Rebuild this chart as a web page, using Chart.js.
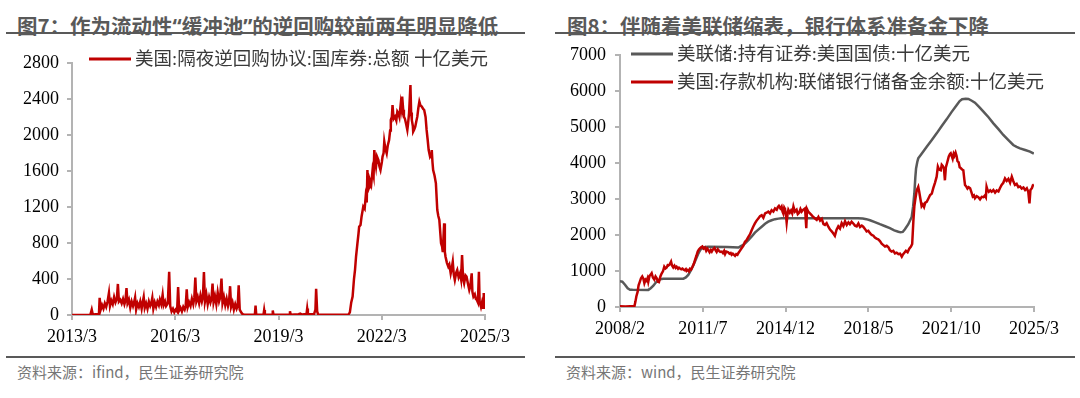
<!DOCTYPE html>
<html>
<head>
<meta charset="utf-8">
<script src="https://cdn.jsdelivr.net/npm/chart.js@4.4.1/dist/chart.umd.min.js"></script>
<style>
  body { margin: 0; width: 1080px; height: 398px; background: #fff; position: relative; overflow: hidden; }
  canvas { position: absolute; top: 0; }
  .title { position: absolute; top: 10px; height: 22px; line-height: 22px; font: bold 20.5px "Noto Sans CJK SC", sans-serif; color: #595959; white-space: nowrap; }
  .title .q { font-family: "Noto Sans", sans-serif; }
  .rule { position: absolute; height: 2px; background: #595959; }
  .source { position: absolute; top: 361px; line-height: 20px; font: 15px "Noto Sans CJK SC", sans-serif; color: #767676; white-space: nowrap; }
</style>
</head>
<body>
<div class="title" style="left:17px">图7：作为流动性<span class="q">“</span>缓冲池<span class="q">”</span>的逆回购较前两年明显降低</div>
<div class="rule" style="left:6px;top:32px;width:519px"></div>
<div class="rule" style="left:6px;top:356px;width:519px"></div>
<div class="source" style="left:17px">资料来源：ifind，民生证券研究院</div>

<div class="title" style="left:567px">图8：伴随着美联储缩表，银行体系准备金下降</div>
<div class="rule" style="left:555px;top:32px;width:520px"></div>
<div class="rule" style="left:555px;top:356px;width:520px"></div>
<div class="source" style="left:566px">资料来源：wind，民生证券研究院</div>

<canvas id="rrpChart" width="540" height="398" style="left:0"></canvas>
<canvas id="bsChart" width="540" height="398" style="left:540px"></canvas>

<script>
// ---- left: overnight reverse repo, [decimal year, bn USD] ----
const rrpLabel = '美国:隔夜逆回购协议:国库券:总额 十亿美元';
const rrpTickLabels = ['2013/3', '2016/3', '2019/3', '2022/3', '2025/3'];
const rrpYTicks = { min: 0, max: 2800, step: 400 };
const rrpSeries = [
    [2013.17, 0], [2013.70, 2], [2013.74, 60], [2013.77, 5], [2013.95, 10], [2013.97, 190], [2014.0, 60],
    [2014.04, 110], [2014.08, 70], [2014.12, 130], [2014.16, 90], [2014.2, 150], [2014.24, 245], [2014.27, 100],
    [2014.31, 160], [2014.35, 120], [2014.39, 200], [2014.43, 140], [2014.47, 180], [2014.5, 345], [2014.53, 150],
    [2014.57, 170], [2014.61, 130], [2014.65, 180], [2014.69, 120], [2014.72, 160], [2014.75, 300], [2014.78, 130],
    [2014.82, 170], [2014.86, 80], [2014.9, 150], [2014.94, 100], [2014.97, 140], [2015.0, 195], [2015.03, 60],
    [2015.07, 130], [2015.11, 90], [2015.15, 150], [2015.19, 70], [2015.22, 140], [2015.25, 200], [2015.28, 80],
    [2015.32, 130], [2015.36, 70], [2015.4, 150], [2015.44, 100], [2015.47, 130], [2015.5, 190], [2015.53, 70],
    [2015.57, 140], [2015.61, 90], [2015.65, 150], [2015.69, 110], [2015.72, 170], [2015.76, 120], [2015.8, 225],
    [2015.83, 110], [2015.87, 150], [2015.9, 100], [2015.95, 130], [2015.99, 480], [2016.02, 100], [2016.06, 40],
    [2016.1, 70], [2016.14, 30], [2016.18, 60], [2016.22, 40], [2016.25, 310], [2016.28, 50], [2016.32, 80],
    [2016.36, 40], [2016.4, 90], [2016.44, 60], [2016.47, 100], [2016.5, 285], [2016.53, 90], [2016.57, 140],
    [2016.61, 100], [2016.65, 180], [2016.69, 120], [2016.72, 190], [2016.75, 415], [2016.78, 150], [2016.82, 200],
    [2016.86, 130], [2016.9, 220], [2016.94, 150], [2016.97, 200], [2017.0, 478], [2017.03, 150], [2017.07, 230],
    [2017.11, 120], [2017.15, 200], [2017.19, 140], [2017.22, 180], [2017.25, 350], [2017.28, 140], [2017.32, 210],
    [2017.36, 120], [2017.4, 250], [2017.44, 150], [2017.47, 190], [2017.51, 405], [2017.54, 130], [2017.58, 200],
    [2017.62, 110], [2017.66, 180], [2017.7, 100], [2017.73, 150], [2017.76, 320], [2017.79, 90], [2017.83, 140],
    [2017.87, 60], [2017.91, 120], [2017.95, 70], [2017.98, 100], [2018.01, 330], [2018.04, 60], [2018.08, 30],
    [2018.12, 10], [2018.16, 5], [2018.3, 3], [2018.48, 2], [2018.5, 105], [2018.52, 3], [2018.73, 2],
    [2018.75, 55], [2018.77, 2], [2018.98, 2], [2019.0, 50], [2019.02, 2], [2019.48, 2], [2019.5, 42],
    [2019.52, 3], [2019.75, 8], [2019.8, 15], [2019.85, 5], [2019.98, 10], [2020.0, 72], [2020.02, 8],
    [2020.2, 10], [2020.24, 60], [2020.26, 290], [2020.29, 40], [2020.32, 5], [2020.6, 2], [2021.0, 3],
    [2021.2, 5], [2021.24, 30], [2021.28, 140], [2021.32, 204], [2021.36, 400], [2021.39, 500], [2021.42, 650],
    [2021.46, 796], [2021.49, 900], [2021.51, 981], [2021.55, 1000], [2021.58, 1092], [2021.63, 1204],
    [2021.67, 1180], [2021.7, 1315], [2021.73, 1250], [2021.75, 1611], [2021.77, 1389], [2021.8, 1420],
    [2021.82, 1500], [2021.86, 1450], [2021.9, 1611], [2021.93, 1550], [2021.95, 1833], [2021.98, 1700],
    [2022.0, 1648], [2022.03, 1760], [2022.07, 1722], [2022.1, 1650], [2022.13, 1611], [2022.17, 1700],
    [2022.19, 1760], [2022.22, 1800], [2022.24, 1926], [2022.27, 1850], [2022.31, 1796], [2022.34, 1880],
    [2022.38, 1944], [2022.41, 2050], [2022.43, 2167], [2022.46, 2200], [2022.48, 2333], [2022.51, 2180],
    [2022.55, 2204], [2022.59, 2160], [2022.62, 2260], [2022.65, 2241], [2022.68, 2200], [2022.72, 2352],
    [2022.74, 2300], [2022.76, 2426], [2022.79, 2280], [2022.81, 2204], [2022.84, 2180], [2022.87, 2130],
    [2022.91, 2056], [2022.93, 2120], [2022.96, 2241], [2023.0, 2555], [2023.02, 2250], [2023.04, 2167],
    [2023.07, 2100], [2023.08, 2037], [2023.11, 2060], [2023.14, 2093], [2023.17, 2150], [2023.2, 2204],
    [2023.23, 2300], [2023.26, 2370], [2023.29, 2330], [2023.33, 2315], [2023.37, 2290], [2023.4, 2278],
    [2023.44, 2200], [2023.47, 2056], [2023.5, 1950], [2023.53, 1833], [2023.57, 1759], [2023.6, 1780],
    [2023.62, 1833], [2023.64, 1700], [2023.66, 1611], [2023.7, 1550], [2023.74, 1463], [2023.78, 1167],
    [2023.81, 1100], [2023.84, 1055], [2023.87, 900], [2023.89, 796], [2023.92, 760], [2023.94, 700],
    [2023.98, 1018], [2024.0, 700], [2024.02, 648], [2024.06, 580], [2024.1, 537], [2024.13, 560],
    [2024.17, 463], [2024.2, 520], [2024.23, 592], [2024.26, 450], [2024.29, 389], [2024.33, 470],
    [2024.36, 500], [2024.4, 420], [2024.44, 463], [2024.47, 400], [2024.5, 667], [2024.53, 400],
    [2024.56, 352], [2024.6, 440], [2024.63, 426], [2024.67, 350], [2024.71, 278], [2024.74, 320],
    [2024.78, 463], [2024.8, 260], [2024.83, 204], [2024.87, 230], [2024.9, 180], [2024.93, 167],
    [2024.96, 140], [2024.99, 481], [2025.01, 150], [2025.05, 90], [2025.08, 140], [2025.11, 80],
    [2025.13, 245], [2025.15, 110], [2025.16, 130]
];

// ---- right: Fed Treasury holdings & reserve balances, [decimal year, bn USD] ----
const fedTreasuryLabel = '美联储:持有证券:美国国债:十亿美元';
const reserveLabel = '美国:存款机构:联储银行储备金余额:十亿美元';
const bsTickLabels = ['2008/2', '2011/7', '2014/12', '2018/5', '2021/10', '2025/3'];
const bsYTicks = { min: 0, max: 7000, step: 1000 };
const fedTreasurySeries = [
    [2008.08, 713], [2008.18, 703], [2008.29, 620], [2008.4, 520], [2008.5, 480], [2008.6, 476], [2009.25, 475],
    [2009.35, 520], [2009.46, 590], [2009.56, 680], [2009.67, 750], [2009.8, 780], [2009.87, 787], [2010.7, 787],
    [2010.8, 820], [2010.9, 890], [2011.0, 1010], [2011.11, 1160], [2011.22, 1330], [2011.32, 1490],
    [2011.4, 1590], [2011.48, 1645], [2011.6, 1670], [2011.73, 1676], [2012.5, 1665], [2012.97, 1650],
    [2013.07, 1690], [2013.17, 1725], [2013.28, 1790], [2013.38, 1860], [2013.52, 1960], [2013.65, 2065],
    [2013.79, 2150], [2013.93, 2230], [2014.07, 2310], [2014.2, 2370], [2014.34, 2410], [2014.48, 2440],
    [2014.62, 2455], [2014.75, 2463], [2017.57, 2465], [2017.9, 2462], [2018.1, 2455], [2018.25, 2440],
    [2018.4, 2410], [2018.6, 2360], [2018.81, 2300], [2019.0, 2250], [2019.22, 2190], [2019.4, 2130],
    [2019.57, 2090], [2019.66, 2074], [2019.75, 2085], [2019.84, 2160], [2019.98, 2300], [2020.12, 2500],
    [2020.18, 2800], [2020.23, 3160], [2020.27, 3600], [2020.3, 3850], [2020.35, 4030], [2020.39, 4130],
    [2020.5, 4230], [2020.74, 4454], [2020.95, 4640], [2021.15, 4824], [2021.36, 5030], [2021.56, 5213],
    [2021.77, 5420], [2021.98, 5611], [2022.1, 5720], [2022.2, 5770], [2022.35, 5785], [2022.46, 5778],
    [2022.6, 5730], [2022.73, 5676], [2022.9, 5560], [2023.08, 5426], [2023.29, 5270], [2023.49, 5102],
    [2023.7, 4940], [2023.9, 4778], [2024.1, 4640], [2024.31, 4500], [2024.45, 4450], [2024.59, 4407],
    [2024.8, 4360], [2025.0, 4315], [2025.16, 4260]
];
const reserveSeries = [
    [2008.08, 20], [2008.3, 15], [2008.5, 20], [2008.68, 25], [2008.72, 150], [2008.76, 300], [2008.81, 420],
    [2008.85, 600], [2008.9, 700], [2008.95, 800], [2009.0, 850], [2009.05, 780], [2009.09, 660], [2009.14, 760],
    [2009.18, 730], [2009.22, 800], [2009.25, 700], [2009.3, 860], [2009.35, 900], [2009.39, 940], [2009.44, 820],
    [2009.5, 760], [2009.55, 850], [2009.6, 800], [2009.65, 700], [2009.69, 690], [2009.75, 850], [2009.8, 930],
    [2009.86, 1000], [2009.91, 1120], [2009.96, 1070], [2010.01, 1100], [2010.05, 1160], [2010.08, 1150],
    [2010.13, 1180], [2010.19, 1260], [2010.23, 1150], [2010.28, 1100], [2010.33, 1150], [2010.38, 1090],
    [2010.42, 1120], [2010.48, 1060], [2010.52, 1090], [2010.56, 1070], [2010.61, 1050], [2010.66, 1070],
    [2010.7, 1040], [2010.75, 1020], [2010.8, 1050], [2010.83, 1000], [2010.88, 1030], [2010.93, 990],
    [2010.97, 1060], [2011.02, 1040], [2011.07, 1110], [2011.13, 1200], [2011.18, 1310], [2011.24, 1430],
    [2011.29, 1540], [2011.34, 1600], [2011.38, 1630], [2011.43, 1660], [2011.48, 1680], [2011.53, 1620],
    [2011.59, 1650], [2011.64, 1560], [2011.69, 1620], [2011.73, 1580], [2011.78, 1520], [2011.83, 1580],
    [2011.87, 1540], [2011.92, 1600], [2011.98, 1640], [2012.03, 1570], [2012.07, 1530], [2012.12, 1600],
    [2012.17, 1560], [2012.22, 1530], [2012.28, 1540], [2012.33, 1500], [2012.38, 1560], [2012.42, 1470],
    [2012.47, 1540], [2012.55, 1520], [2012.6, 1480], [2012.65, 1500], [2012.69, 1450], [2012.74, 1480],
    [2012.8, 1440], [2012.83, 1420], [2012.88, 1470], [2012.93, 1450], [2012.97, 1500], [2013.03, 1560],
    [2013.1, 1630], [2013.17, 1700], [2013.24, 1810], [2013.3, 1850], [2013.38, 1950], [2013.45, 2020],
    [2013.52, 2140], [2013.58, 2230], [2013.65, 2320], [2013.72, 2400], [2013.79, 2460], [2013.86, 2520],
    [2013.93, 2550], [2014.0, 2480], [2014.07, 2600], [2014.13, 2620], [2014.2, 2650], [2014.27, 2600],
    [2014.34, 2690], [2014.41, 2650], [2014.48, 2740], [2014.55, 2700], [2014.6, 2780], [2014.64, 2810],
    [2014.7, 2740], [2014.75, 2790], [2014.79, 2650], [2014.82, 2600], [2014.86, 2760], [2014.89, 2720],
    [2014.93, 2560], [2014.96, 2350], [2015.0, 2600], [2015.03, 2700], [2015.09, 2620], [2015.14, 2680],
    [2015.19, 2600], [2015.24, 2790], [2015.3, 2650], [2015.37, 2700], [2015.42, 2580], [2015.48, 2620],
    [2015.53, 2720], [2015.58, 2650], [2015.64, 2700], [2015.72, 2740], [2015.77, 2190], [2015.8, 2720],
    [2015.85, 2650], [2015.92, 2600], [2015.99, 2550], [2016.06, 2500], [2016.13, 2460], [2016.2, 2420],
    [2016.27, 2500], [2016.34, 2400], [2016.41, 2450], [2016.48, 2300], [2016.54, 2280], [2016.61, 2330],
    [2016.68, 2230], [2016.75, 2150], [2016.82, 2100], [2016.88, 2050], [2016.95, 1980], [2017.02, 2150],
    [2017.09, 2240], [2017.16, 2180], [2017.23, 2330], [2017.3, 2250], [2017.37, 2380], [2017.44, 2280],
    [2017.51, 2350], [2017.57, 2300], [2017.64, 2370], [2017.71, 2320], [2017.78, 2260], [2017.85, 2240],
    [2017.92, 2320], [2017.99, 2220], [2018.06, 2260], [2018.12, 2230], [2018.19, 2170], [2018.26, 2100],
    [2018.33, 2120], [2018.4, 2050], [2018.47, 2000], [2018.54, 1980], [2018.6, 1930], [2018.67, 1900],
    [2018.74, 1880], [2018.81, 1830], [2018.88, 1760], [2018.95, 1720], [2019.02, 1680], [2019.09, 1700],
    [2019.16, 1660], [2019.22, 1580], [2019.29, 1540], [2019.36, 1560], [2019.43, 1490], [2019.5, 1510],
    [2019.57, 1470], [2019.64, 1480], [2019.71, 1400], [2019.75, 1450], [2019.81, 1500], [2019.88, 1560],
    [2019.95, 1520], [2020.02, 1620], [2020.09, 1680], [2020.14, 1750], [2020.19, 2400], [2020.23, 2800],
    [2020.27, 3000], [2020.33, 3250], [2020.39, 3340], [2020.43, 3200], [2020.48, 3000], [2020.53, 2800],
    [2020.58, 2850], [2020.63, 2780], [2020.68, 2900], [2020.74, 2920], [2020.8, 3000], [2020.88, 3110],
    [2020.95, 3150], [2021.01, 3300], [2021.08, 3450], [2021.15, 3620], [2021.2, 3900], [2021.25, 3820],
    [2021.32, 3800], [2021.36, 3950], [2021.4, 3920], [2021.45, 3850], [2021.49, 3520], [2021.53, 3880],
    [2021.58, 4000], [2021.65, 4180], [2021.7, 4250], [2021.73, 4270], [2021.78, 4180], [2021.81, 4120],
    [2021.85, 4250], [2021.88, 4200], [2021.93, 4290], [2021.97, 4200], [2022.01, 4050], [2022.06, 4020],
    [2022.1, 3880], [2022.14, 3860], [2022.2, 3820], [2022.25, 3800], [2022.29, 3550], [2022.32, 3390],
    [2022.37, 3350], [2022.42, 3290], [2022.47, 3330], [2022.53, 3300], [2022.58, 3200], [2022.64, 3070],
    [2022.69, 3100], [2022.73, 3020], [2022.8, 3080], [2022.87, 3050], [2022.94, 2990], [2023.01, 3060],
    [2023.08, 3050], [2023.14, 3100], [2023.18, 3050], [2023.21, 3340], [2023.25, 3250], [2023.3, 3200],
    [2023.36, 3240], [2023.42, 3200], [2023.49, 3250], [2023.56, 3180], [2023.63, 3240], [2023.7, 3210],
    [2023.76, 3300], [2023.83, 3390], [2023.9, 3450], [2023.97, 3570], [2024.04, 3500], [2024.11, 3560],
    [2024.18, 3450], [2024.25, 3620], [2024.31, 3500], [2024.38, 3390], [2024.45, 3420], [2024.52, 3330],
    [2024.59, 3350], [2024.66, 3290], [2024.73, 3320], [2024.8, 3250], [2024.87, 3300], [2024.93, 3200],
    [2024.98, 2880], [2025.02, 3250], [2025.08, 3300], [2025.12, 3380], [2025.16, 3400]
];

const RED = '#c00000';
const GREY = '#595959';
const AXIS = '#b3b3b3';

// '2013/3' -> 2013.1667
function labelToYear(s) {
    const [y, m] = s.split('/').map(Number);
    return y + (m - 1) / 12;
}
const toPoints = arr => arr.map(([x, y]) => ({ x, y }));

// legend drawn inside the plot: short line + text, one row per dataset
const lineLegend = {
    id: 'lineLegend',
    afterDraw(chart, args, opts) {
        const ctx = chart.ctx;
        ctx.save();
        chart.data.datasets.forEach((ds, i) => {
            const y = opts.y + i * opts.rowGap;
            ctx.strokeStyle = ds.borderColor;
            ctx.lineWidth = 3;
            ctx.beginPath();
            ctx.moveTo(opts.x, y);
            ctx.lineTo(opts.x + opts.lineLength, y);
            ctx.stroke();
            ctx.fillStyle = '#3a3a3a';
            ctx.font = opts.font;
            ctx.textBaseline = 'middle';
            ctx.fillText(ds.label, opts.x + opts.lineLength + 4, y + 1);
        });
        ctx.restore();
    }
};

function makeChart(id, datasets, tickLabels, yTicks, layout, legend) {
    const tickVals = tickLabels.map(labelToYear);
    const tickFont = { family: "'Liberation Serif', serif", size: 18 };
    const gridOpts = { drawOnChartArea: false, tickLength: 5, color: AXIS, lineWidth: 2 };
    return new Chart(document.getElementById(id), {
        type: 'line',
        data: { datasets },
        plugins: [lineLegend],
        options: {
            responsive: false,
            animation: false,
            events: [],
            layout: { padding: layout.padding },
            elements: { point: { radius: 0 }, line: { borderWidth: 2.5, tension: 0 } },
            plugins: { legend: { display: false }, tooltip: { enabled: false }, lineLegend: legend },
            scales: {
                x: {
                    type: 'linear',
                    min: tickVals[0],
                    max: tickVals[tickVals.length - 1],
                    grid: gridOpts,
                    border: { color: AXIS, width: 2 },
                    ticks: {
                        font: tickFont, color: '#000', padding: 6, maxRotation: 0, autoSkip: false,
                        callback: v => {
                            const i = tickVals.findIndex(t => Math.abs(t - v) < 1e-6);
                            return i >= 0 ? tickLabels[i] : '';
                        }
                    },
                    afterBuildTicks: s => { s.ticks = tickVals.map(v => ({ value: v })); },
                    afterFit: s => { s.height = 30; s.paddingLeft = 0; s.paddingRight = 0; }
                },
                y: {
                    min: yTicks.min,
                    max: yTicks.max,
                    grid: gridOpts,
                    border: { color: AXIS, width: 2 },
                    ticks: { font: tickFont, color: '#000', padding: layout.yPad, stepSize: yTicks.step, callback: v => String(v) },
                    afterFit: s => { s.width = layout.yWidth; s.paddingTop = 0; s.paddingBottom = 0; }
                }
            }
        }
    });
}

makeChart('rrpChart',
    [{ label: rrpLabel, data: toPoints(rrpSeries), borderColor: RED }],
    rrpTickLabels, rrpYTicks,
    { padding: { left: 0, top: 63, right: 55, bottom: 53 }, yWidth: 72, yPad: 8 },
    { x: 89, y: 59, rowGap: 28, lineLength: 42, font: "18.5px 'Liberation Serif', 'Noto Sans CJK SC'" });

makeChart('bsChart',
    [
        { label: fedTreasuryLabel, data: toPoints(fedTreasurySeries), borderColor: GREY, order: 1 },
        { label: reserveLabel, data: toPoints(reserveSeries), borderColor: RED, order: 0 }
    ],
    bsTickLabels, bsYTicks,
    { padding: { left: 0, top: 55, right: 46, bottom: 61 }, yWidth: 80, yPad: 9 },
    { x: 91, y: 54, rowGap: 28, lineLength: 42, font: "18.5px 'Liberation Serif', 'Noto Sans CJK SC'" });
</script>
</body>
</html>
